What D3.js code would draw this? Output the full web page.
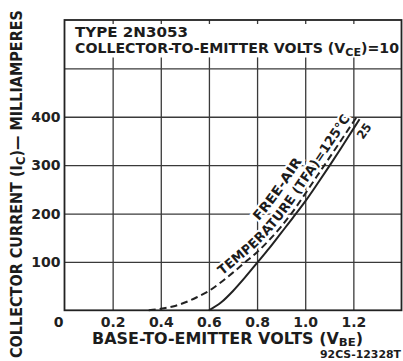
<!DOCTYPE html>
<html>
<head>
<meta charset="utf-8">
<script src="https://cdn.jsdelivr.net/npm/d3@7"></script>
<style>
  body { margin: 0; background: #fff; }
  svg { display: block; }
  text { font-family: "DejaVu Sans", sans-serif; font-weight: bold; fill: #1c1c1c; }
</style>
</head>
<body>
<div id="chart"></div>
<script>
var xTicks = [0.2, 0.4, 0.6, 0.8, 1.0, 1.2];
var yTicks = [100, 200, 300, 400, 500];
var yLabels = ["100", "200", "300", "400", ""];

// 25 C (solid)
var vbe25 = [0.6, 0.65, 0.7, 0.75, 0.8, 0.85, 0.9, 0.95, 1.0, 1.05, 1.1, 1.15, 1.2, 1.226];
var ic25  = [0, 16, 40, 68, 98, 128, 160, 192, 225, 261, 298, 336, 375, 395];

// 125 C (dashed)
var vbe125 = [0.35, 0.4, 0.45, 0.5, 0.55, 0.6, 0.65, 0.7, 0.75, 0.8, 0.85, 0.9, 0.95, 1.0, 1.05, 1.1, 1.15, 1.217];
var ic125  = [0, 3, 8, 16, 27, 40, 58, 78, 99, 120, 145, 173, 205, 241, 278, 315, 352, 402];

var width = 403, height = 361;
var svg = d3.select('#chart').append('svg').attr('width', width).attr('height', height);

var x = d3.scaleLinear().domain([0, 1.4]).range([64.5, 401.5]);
var y = d3.scaleLinear().domain([0, 600]).range([310.3, 20]);

var ink = '#222';

// grid via axes
var xg = svg.append('g').attr('transform', 'translate(0,' + y(0) + ')')
  .call(d3.axisBottom(x).tickValues(xTicks).tickSize(-(y(0) - y(500))).tickPadding(7)
    .tickFormat(d3.format('.1f')));
xg.select('.domain').remove();
xg.selectAll('text').attr('font-size', 14).attr('font-family', null).style('fill', ink);

var yg = svg.append('g').attr('transform', 'translate(' + x(0) + ',0)')
  .call(d3.axisLeft(y).tickValues(yTicks).tickSize(-(x(1.4) - x(0))).tickPadding(4)
    .tickFormat(function(d, i) { return yLabels[i]; }));
yg.select('.domain').remove();
yg.selectAll('text').attr('font-size', 14).attr('font-family', null).style('fill', ink);

// short stubs in the title band
var s1 = svg.append('g').attr('transform', 'translate(0,' + y(600) + ')')
  .call(d3.axisTop(x).tickValues(xTicks).tickSize(-4).tickFormat(''));
s1.select('.domain').remove();
var s2 = svg.append('g').attr('transform', 'translate(0,' + y(500) + ')')
  .call(d3.axisBottom(x).tickValues(xTicks).tickSize(-11).tickFormat(''));
s2.select('.domain').remove();
svg.selectAll('g line').attr('stroke', '#3a3a3a').attr('stroke-width', 1.3);

// frame
svg.append('rect').attr('x', x(0)).attr('y', y(600))
  .attr('width', x(1.4) - x(0)).attr('height', y(0) - y(600))
  .attr('fill', 'none').attr('stroke', ink).attr('stroke-width', 1.8);

svg.append('text').attr('x', x(0) - 6).attr('y', 327).attr('text-anchor', 'middle')
  .attr('font-size', 14).text('0');

// curves
var line = d3.line().curve(d3.curveMonotoneX)
  .x(function(d) { return x(d[0]); }).y(function(d) { return y(d[1]); });

var hot = svg.append('path').datum(d3.zip(vbe125, ic125)).attr('d', line)
  .attr('fill', 'none').attr('stroke', ink).attr('stroke-width', 2).attr('stroke-dasharray', '7,4');
var room = svg.append('path').datum(d3.zip(vbe25, ic25)).attr('d', line)
  .attr('fill', 'none').attr('stroke', ink).attr('stroke-width', 2);

// labels follow the dashed curve, offset to its upper left
var defs = svg.append('defs');
function offsetPath(node, v0, d) {
  var L = node.getTotalLength(), pts = [];
  for (var s = 0; s <= L; s += 1.5) pts.push(node.getPointAtLength(s));
  pts = pts.filter(function(p) { return p.x >= x(v0); });
  var out = pts.map(function(p, i) {
    var a = pts[Math.max(0, i - 4)], b = pts[Math.min(pts.length - 1, i + 4)];
    var tx = b.x - a.x, ty = b.y - a.y, n = Math.hypot(tx, ty);
    return [p.x + d * ty / n, p.y - d * tx / n, tx / n, ty / n];
  });
  var e = out[out.length - 1];
  out.push([e[0] + 30 * e[2], e[1] + 30 * e[3]]);
  return d3.line().curve(d3.curveBasis)(out.map(function(p) { return [p[0], p[1]]; }));
}
defs.append('path').attr('id', 'p1').attr('d', offsetPath(hot.node(), 0.665, 4.5));
defs.append('path').attr('id', 'p2').attr('d', offsetPath(hot.node(), 0.87, 20.5));

function pathLabel(id, t, len, fs) {
  svg.append('text').attr('font-size', fs)
    .attr('stroke', '#fff').attr('stroke-width', 4).attr('paint-order', 'stroke')
    .append('textPath').attr('href', '#' + id)
    .attr('textLength', len).attr('lengthAdjust', 'spacingAndGlyphs').text(t);
}
pathLabel('p1', 'TEMPERATURE (TFA)=125\u00B0C', 204, 13);
pathLabel('p2', 'FREE-AIR', 74, 13);

svg.append('text')
  .attr('transform', 'translate(' + x(1.24) + ',' + y(352) + ') rotate(-55)')
  .attr('font-size', 12).attr('textLength', 16).attr('lengthAdjust', 'spacingAndGlyphs')
  .attr('stroke', '#fff').attr('stroke-width', 3).attr('paint-order', 'stroke')
  .text('25');

// redraw curves above the label halos
svg.node().appendChild(hot.node());
svg.node().appendChild(room.node());

// title block
svg.append('text').attr('x', 75).attr('y', 37).attr('font-size', 14)
  .attr('textLength', 113).attr('lengthAdjust', 'spacingAndGlyphs').text('TYPE 2N3053');
var t2 = svg.append('text').attr('x', 75).attr('y', 53).attr('font-size', 14)
  .attr('textLength', 324).attr('lengthAdjust', 'spacingAndGlyphs');
t2.append('tspan').text('COLLECTOR-TO-EMITTER VOLTS (V');
t2.append('tspan').attr('dy', 3).attr('font-size', 11).text('CE');
t2.append('tspan').attr('dy', -3).text(')=10');

// x title
var xt = svg.append('text').attr('x', 92).attr('y', 344).attr('font-size', 15)
  .attr('textLength', 271).attr('lengthAdjust', 'spacingAndGlyphs');
xt.append('tspan').text('BASE-TO-EMITTER VOLTS  (V');
xt.append('tspan').attr('dy', 2).attr('font-size', 11).text('BE');
xt.append('tspan').attr('dy', -2).text(')');

svg.append('text').attr('x', 401).attr('y', 358).attr('text-anchor', 'end')
  .attr('font-size', 10).attr('textLength', 81).attr('lengthAdjust', 'spacingAndGlyphs')
  .text('92CS-12328T');

// y title
var yt = svg.append('text').attr('transform', 'translate(22,358) rotate(-90)')
  .attr('font-size', 15).attr('textLength', 348).attr('lengthAdjust', 'spacingAndGlyphs');
yt.append('tspan').text('COLLECTOR CURRENT (I');
yt.append('tspan').attr('dy', 3).attr('font-size', 12).text('C');
yt.append('tspan').attr('dy', -3).text(')\u2014 MILLIAMPERES');
</script>
</body>
</html>
